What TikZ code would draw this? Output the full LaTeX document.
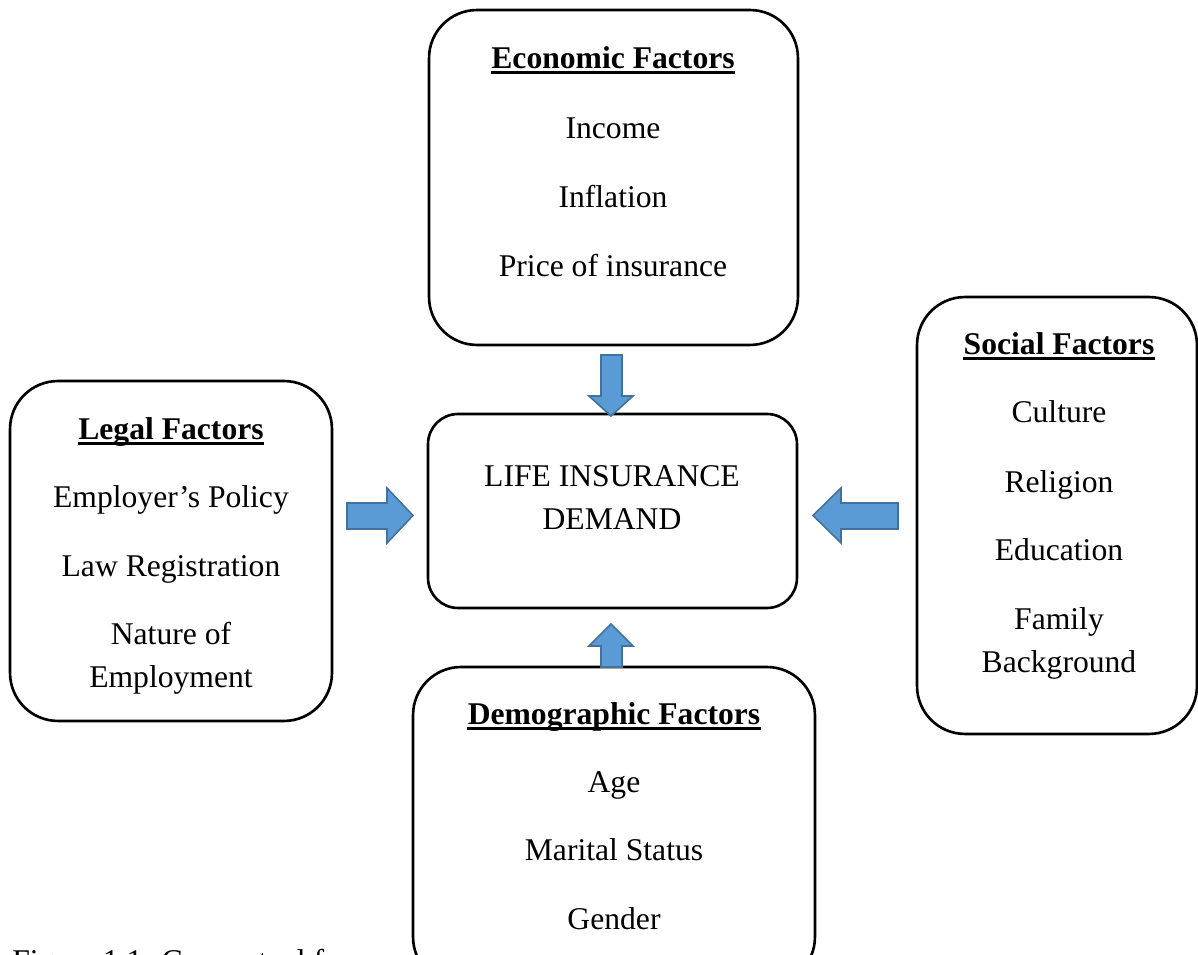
\documentclass[tikz,border=0pt]{standalone}
\usepackage{fontspec}
\setmainfont{Liberation Serif}
\definecolor{arrowfill}{HTML}{5B9BD5}
\definecolor{arrowedge}{HTML}{41719C}
\begin{document}
\begin{tikzpicture}[x=0.02cm,y=-0.02cm,
  factorbox/.style={draw=black, line width=1.5pt, fill=white, rounded corners=0.96cm, inner sep=0pt},
  hubbox/.style={factorbox, rounded corners=0.6cm},
  item/.style={anchor=base, inner sep=0pt, font=\fontsize{18}{21}\selectfont},
  heading/.style={item, font=\fontsize{18}{21}\selectfont\bfseries},
  uline/.style={line width=0.06cm},
  blockarrow/.style={draw=arrowedge, fill=arrowfill, line width=0.9pt, line join=miter}
]
% page frame
\clip (0,0) rectangle (1198,955);
\fill[white] (0,0) rectangle (1198,955);

% caption (runs off the page)
\node[item, anchor=base west] (caption) at (12,972) {Figure 1.1: Conceptual fr};

% boxes
\node[factorbox, minimum width=7.38cm, minimum height=6.7cm]  (econ)   at (613.5,177.5) {};
\node[hubbox,    minimum width=7.38cm, minimum height=3.88cm] (demand) at (612.5,511) {};
\node[factorbox, minimum width=6.44cm, minimum height=6.8cm]  (legal)  at (171,551) {};
\node[factorbox, minimum width=5.6cm,  minimum height=8.74cm] (social) at (1057,515.5) {};
\node[factorbox, minimum width=8.04cm, minimum height=6.36cm] (demo)   at (614,826) {};

% block arrows pointing at the demand box
\coordinate (tipN) at (611,416);
\coordinate (tipW) at (413,515.5);
\coordinate (tipE) at (813,515.5);
\coordinate (tipS) at (611,624);
\draw[blockarrow] (tipN) -- (589,396) -- (601,396) -- (601,355) -- (622,355) -- (622,396) -- (633,396) -- cycle;
\draw[blockarrow] (tipW) -- (387,488) -- (387,503) -- (347,503) -- (347,529) -- (387,529) -- (387,543) -- cycle;
\draw[blockarrow] (tipE) -- (841,488) -- (841,503) -- (898,503) -- (898,529) -- (841,529) -- (841,543) -- cycle;
\draw[blockarrow] (tipS) -- (589,646) -- (601,646) -- (601,667) -- (622,667) -- (622,646) -- (633,646) -- cycle;

\begin{scope}[yshift=-0.05cm]
% economic factors
\node[heading] (econH) at (613,66) {Economic Factors};
\node[item] (econ1) at (613,136) {Income};
\node[item] (econ2) at (613,205) {Inflation};
\node[item] (econ3) at (613,274) {Price of insurance};

% demand
\node[item] (dem1) at (612,484) {LIFE INSURANCE};
\node[item] (dem2) at (612,527) {DEMAND};

% legal factors
\node[heading] (legalH) at (171,437) {Legal Factors};
\node[item] (legal1) at (171,505) {Employer’s Policy};
\node[item] (legal2) at (171,574) {Law Registration};
\node[item] (legal3) at (171,642) {Nature of};
\node[item] (legal4) at (171,685) {Employment};

% social factors
\node[heading] (socialH) at (1059,352) {Social Factors};
\node[item] (social1) at (1059,420) {Culture};
\node[item] (social2) at (1059,490) {Religion};
\node[item] (social3) at (1059,558) {Education};
\node[item] (social4) at (1059,627) {Family};
\node[item] (social5) at (1059,670) {Background};

% demographic factors
\node[heading] (demoH) at (614,722) {Demographic Factors};
\node[item] (demo1) at (614,790) {Age};
\node[item] (demo2) at (614,858) {Marital Status};
\node[item] (demo3) at (614,927) {Gender};
\end{scope}

% heading underlines
\foreach \h in {econH,legalH,socialH,demoH}
  \draw[uline] ([yshift=-0.08cm]\h.base west) -- ([yshift=-0.08cm]\h.base east);
\end{tikzpicture}
\end{document}
